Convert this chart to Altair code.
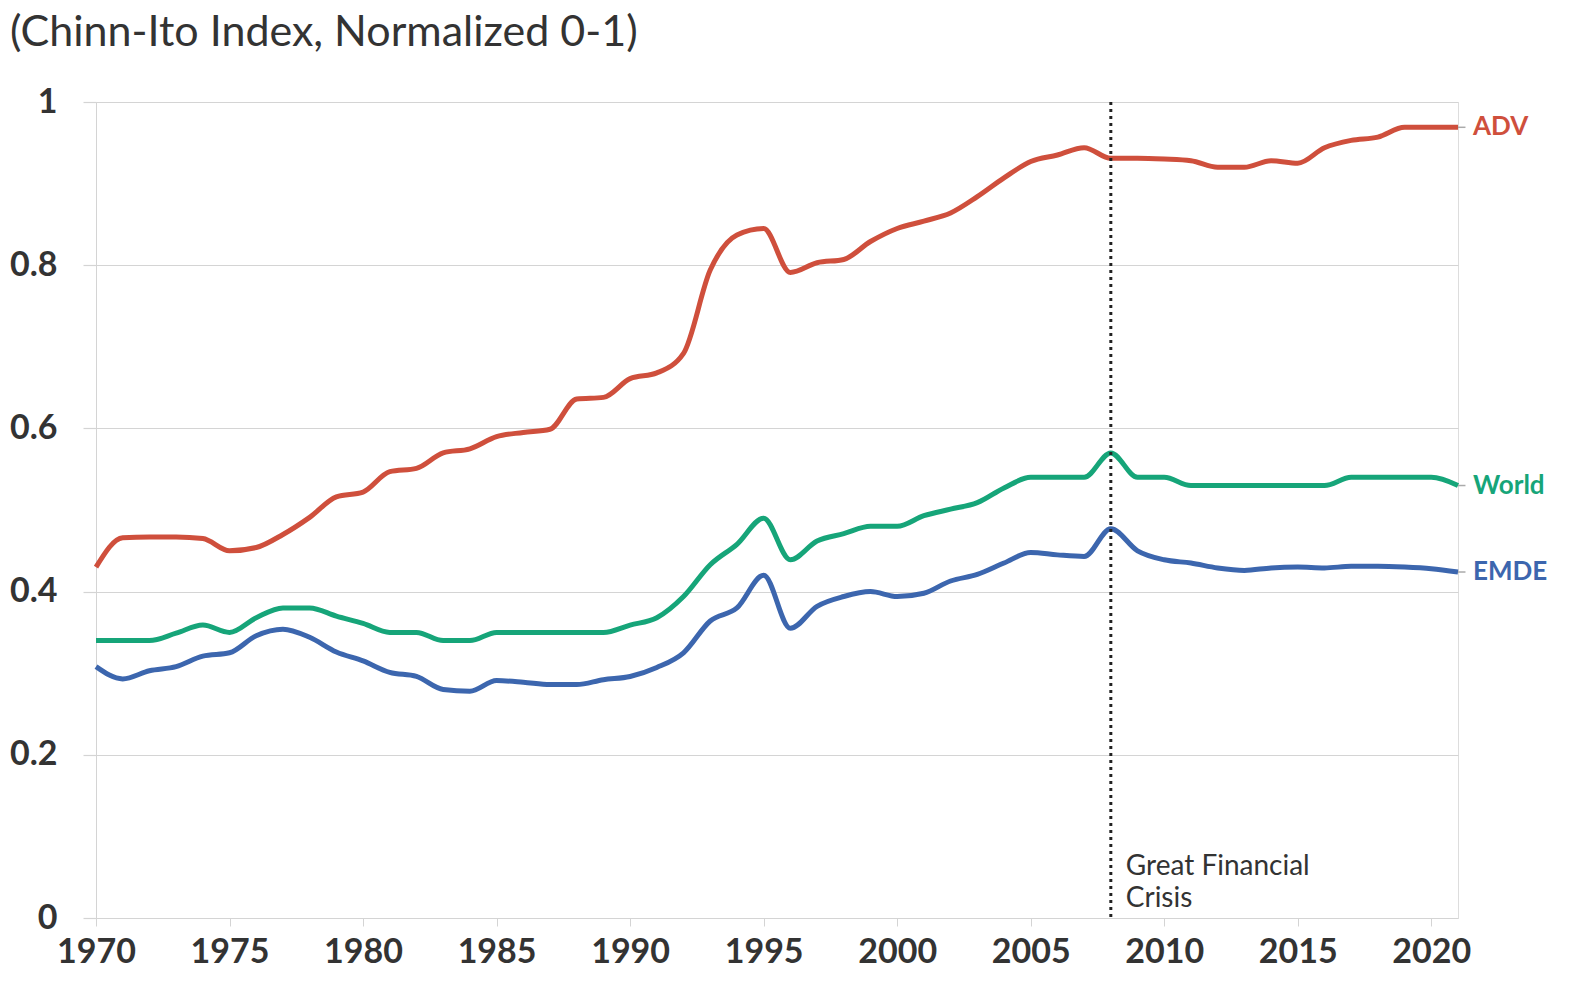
import altair as alt
import pandas as pd

years = list(range(1970, 2022))

adv = [0.430, 0.466, 0.467, 0.467, 0.465, 0.450, 0.454, 0.470, 0.491, 0.516,
       0.522, 0.547, 0.551, 0.570, 0.575, 0.590, 0.595, 0.599, 0.636, 0.638,
       0.661, 0.668, 0.692, 0.794, 0.837, 0.845, 0.791, 0.803, 0.807, 0.829,
       0.845, 0.854, 0.864, 0.884, 0.907, 0.927, 0.935, 0.944, 0.931, 0.931,
       0.930, 0.928, 0.920, 0.920, 0.928, 0.925, 0.944, 0.953, 0.957, 0.969,
       0.969, 0.969]

world = [0.340, 0.340, 0.340, 0.349, 0.359, 0.350, 0.368, 0.380, 0.380, 0.370,
         0.361, 0.350, 0.350, 0.340, 0.340, 0.350, 0.350, 0.350, 0.350, 0.350,
         0.359, 0.368, 0.394, 0.433, 0.458, 0.490, 0.439, 0.462, 0.471, 0.480,
         0.480, 0.493, 0.501, 0.509, 0.527, 0.540, 0.540, 0.540, 0.570, 0.540,
         0.540, 0.530, 0.530, 0.530, 0.530, 0.530, 0.530, 0.540, 0.540, 0.540,
         0.540, 0.530]

emde = [0.308, 0.293, 0.303, 0.308, 0.321, 0.325, 0.346, 0.354, 0.344, 0.326,
        0.315, 0.301, 0.296, 0.280, 0.278, 0.291, 0.289, 0.286, 0.286, 0.292,
        0.296, 0.307, 0.325, 0.364, 0.380, 0.420, 0.355, 0.382, 0.394, 0.400,
        0.394, 0.398, 0.413, 0.421, 0.435, 0.448, 0.445, 0.443, 0.477, 0.450,
        0.439, 0.435, 0.429, 0.426, 0.429, 0.430, 0.429, 0.431, 0.431, 0.430,
        0.428, 0.424]

series_names = ["ADV", "World", "EMDE"]
series_colors = ["#CF4F3C", "#16A579", "#3C66AE"]
title_text = "(Chinn-Ito Index, Normalized 0-1)"
gfc_year = 2008
gfc_text = "Great Financial\nCrisis"
x_ticks = list(range(1970, 2021, 5))
y_ticks = [0, 0.2, 0.4, 0.6, 0.8, 1]

rows = []
for name, vals in zip(series_names, [adv, world, emde]):
    for y, v in zip(years, vals):
        rows.append({"Year": y, "Value": v, "Series": name})
df = pd.DataFrame(rows)
last = df[df["Year"] == years[-1]].copy()
last["Year2"] = last["Year"] + 0.28

FONT = "Lato"
TXT = "#333333"
GRID = "#d4d4d4"

color_scale = alt.Scale(domain=series_names, range=series_colors)

x_enc = alt.X("Year:Q", scale=alt.Scale(domain=[1970, 2021], nice=False, zero=False),
              axis=alt.Axis(values=x_ticks, format="d", title=None, grid=False,
                            domain=False, ticks=True, tickSize=8, tickColor=GRID,
                            tickWidth=1, labelPadding=9, labelFontSize=34,
                            labelFontWeight="bold", labelColor=TXT, labelFont=FONT,
                            labelFlush=False))
y_enc = alt.Y("Value:Q", scale=alt.Scale(domain=[0, 1], nice=False),
              axis=alt.Axis(values=y_ticks, format="~g", title=None, grid=True,
                            gridColor=GRID, gridWidth=1.2, domain=True,
                            domainColor=GRID, domainWidth=1, ticks=True, tickSize=13,
                            tickColor=GRID, tickWidth=1.2, labelPadding=26,
                            labelFontSize=34, labelFontWeight="bold",
                            labelColor=TXT, labelFont=FONT))

lines = alt.Chart(df).mark_line(strokeWidth=5, interpolate="monotone").encode(
    x=x_enc, y=y_enc,
    color=alt.Color("Series:N", scale=color_scale, legend=None),
    detail="Series:N",
)

stubs = alt.Chart(last).mark_rule(color="#aaaaaa", strokeWidth=1.5).encode(
    x="Year:Q", x2="Year2:Q", y="Value:Q",
)

end_labels = alt.Chart(last).mark_text(
    align="left", baseline="middle", dx=15, fontSize=26, fontWeight="bold", font=FONT
).encode(
    x="Year:Q", y="Value:Q", text="Series:N",
    color=alt.Color("Series:N", scale=color_scale, legend=None),
)

gfc_df = pd.DataFrame({"Year": [gfc_year], "Value": [0.062], "label": [gfc_text]})
gfc_rule = alt.Chart(gfc_df).mark_rule(color="#222222", strokeWidth=3,
                                       strokeDash=[3, 4]).encode(x="Year:Q")
gfc_label = alt.Chart(gfc_df).mark_text(
    align="left", baseline="middle", dx=15, fontSize=28, font=FONT, color=TXT,
    lineBreak="\n", lineHeight=32
).encode(x="Year:Q", y="Value:Q", text="label:N")

chart = alt.layer(lines, stubs, end_labels, gfc_rule, gfc_label).properties(
    width=1362, height=816,
    title=alt.TitleParams(title_text, anchor="start", frame="group", dx=-86,
                          offset=30, fontSize=43, font=FONT, fontWeight="normal",
                          color=TXT),
    autosize=alt.AutoSizeParams(type="none"),
    padding={"left": 88, "top": 94, "right": 92, "bottom": 52},
).configure_view(stroke=None).configure(background="white")

chart.save("out.html", embed_options={"renderer": "svg", "actions": False})
